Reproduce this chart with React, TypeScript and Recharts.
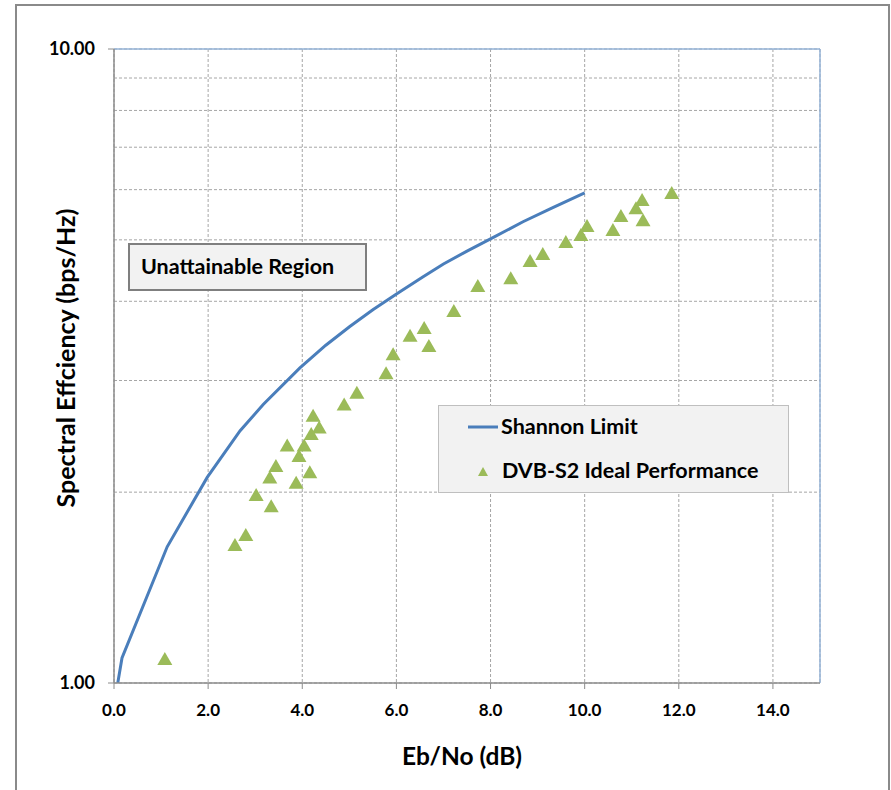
import React from "react";
import {
  ComposedChart,
  Line,
  Scatter,
  XAxis,
  YAxis,
  CartesianGrid,
  ReferenceLine,
  Legend,
} from "recharts";

// Shannon limit curve (Eb/No dB, spectral efficiency bps/Hz)
const shannonX = [0.08, 0.17, 1.13, 1.98, 2.68, 3.17, 3.95, 4.5, 5.01, 5.5, 6.01, 6.56, 7.0, 7.5, 8.03, 8.69, 9.3, 10.0];
const shannonY = [1.0, 1.095, 1.64, 2.11, 2.5, 2.75, 3.14, 3.41, 3.65, 3.88, 4.11, 4.37, 4.58, 4.8, 5.03, 5.34, 5.61, 5.93];

// DVB-S2 ideal performance points
const dvbX = [1.08, 2.57, 2.8, 3.02, 3.34, 3.31, 3.44, 3.68, 3.87, 3.93, 4.04, 4.16, 4.19, 4.23, 4.36, 4.89, 5.16, 5.78, 5.93, 6.29, 6.59, 6.69, 7.22, 7.73, 8.43, 8.84, 9.11, 9.6, 9.92, 10.05, 10.6, 10.77, 11.09, 11.22, 11.24, 11.85];
const dvbY = [1.091, 1.651, 1.712, 1.979, 1.9, 2.11, 2.2, 2.37, 2.07, 2.28, 2.37, 2.15, 2.47, 2.64, 2.53, 2.75, 2.87, 3.08, 3.3, 3.53, 3.63, 3.4, 3.86, 4.23, 4.35, 4.63, 4.75, 4.96, 5.09, 5.26, 5.18, 5.45, 5.61, 5.78, 5.37, 5.93];

const xTicks = [0, 2, 4, 6, 8, 10, 12, 14];
const yTicks = [1, 2, 3, 4, 5, 6, 7, 8, 9, 10];
const yLabelled = [1, 10];

const shannonData = shannonX.map((x, i) => ({ x, y: shannonY[i] }));
const dvbData = dvbX.map((x, i) => ({ x, y: dvbY[i] }));

const FONT = 'Lato, "Open Sans", sans-serif';
const LINE_COLOR = "#4a7ebb";
const TRI_COLOR = "#9bbb59";

const Triangle = (props: any) => {
  const { cx, cy } = props;
  if (cx == null || cy == null) return null;
  return (
    <path
      d={`M${cx},${cy - 7} L${cx + 7.5},${cy + 6} L${cx - 7.5},${cy + 6} Z`}
      fill={TRI_COLOR}
    />
  );
};

const XTick = (props: any) => {
  const { x, y, payload } = props;
  return (
    <g>
      <line x1={x} y1={y} x2={x} y2={y + 6} stroke="#8c8c8c" strokeWidth={1} />
      <text
        x={x}
        y={y + 33}
        textAnchor="middle"
        fontFamily={FONT}
        fontWeight="bold"
        fontSize={17}
        fill="#000"
      >
        {Number(payload.value).toFixed(1)}
      </text>
    </g>
  );
};

const YTick = (props: any) => {
  const { x, y, payload } = props;
  if (!yLabelled.includes(payload.value)) return null;
  return (
    <g>
      <line x1={x - 6} y1={y} x2={x} y2={y} stroke="#8c8c8c" strokeWidth={1} />
      <text
        x={x - 19}
        y={y + 6}
        textAnchor="end"
        fontFamily={FONT}
        fontWeight="bold"
        fontSize={18}
        fill="#000"
      >
        {Number(payload.value).toFixed(2)}
      </text>
    </g>
  );
};

const LegendBox = () => (
  <svg width={351} height={88} style={{ display: "block" }}>
    <rect x={0.5} y={0.5} width={350} height={87} fill="#f2f2f2" stroke="#bfbfbf" strokeWidth={1} />
    <line x1={30} y1={22} x2={60} y2={22} stroke={LINE_COLOR} strokeWidth={3} />
    <text x={63} y={29} fontFamily={FONT} fontWeight="bold" fontSize={21.5} fill="#000">
      Shannon Limit
    </text>
    <path d="M45,62 L50,71 L40,71 Z" fill={TRI_COLOR} />
    <text x={64} y={73} fontFamily={FONT} fontWeight="bold" fontSize={21.5} fill="#000">
      DVB-S2 Ideal Performance
    </text>
  </svg>
);

export default function App() {
  return (
    <div style={{ position: "absolute", left: 0, top: 0, width: 891, height: 790, background: "#fff", overflow: "hidden" }}>
      <div
        style={{
          position: "absolute",
          left: 15,
          top: 4,
          width: 875,
          height: 820,
          border: "2px solid #8a8a8a",
          boxSizing: "border-box",
        }}
      />
      <div style={{ position: "absolute", left: 0, top: 0 }}>
        <ComposedChart
          width={891}
          height={790}
          margin={{ top: 49, right: 71, bottom: 57, left: 54 }}
        >
          <CartesianGrid stroke="#a6a6a6" strokeDasharray="3 2" />
          <XAxis
            type="number"
            dataKey="x"
            domain={[0, 15]}
            ticks={xTicks}
            height={50}
            tickLine={false}
            tickSize={0}
            tickMargin={0}
            tick={<XTick />}
            axisLine={{ stroke: "#8c8c8c", strokeWidth: 1.5 }}
            allowDataOverflow
          />
          <YAxis
            type="number"
            dataKey="y"
            scale="log"
            domain={[1, 10]}
            ticks={yTicks}
            width={60}
            tickLine={false}
            tickSize={0}
            tickMargin={0}
            tick={<YTick />}
            interval={0}
            axisLine={{ stroke: "#8c8c8c", strokeWidth: 1.5 }}
            allowDataOverflow
          />
          <ReferenceLine y={10} stroke="#95b3d7" strokeWidth={1.5} />
          <ReferenceLine x={15} stroke="#95b3d7" strokeWidth={1.5} />
          <Line
            data={shannonData}
            dataKey="y"
            type="linear"
            stroke={LINE_COLOR}
            strokeWidth={3}
            dot={false}
            isAnimationActive={false}
            name="Shannon Limit"
          />
          <Scatter
            data={dvbData}
            dataKey="y"
            shape={<Triangle />}
            isAnimationActive={false}
            name="DVB-S2 Ideal Performance"
          />
          <Legend
            layout="horizontal"
            verticalAlign="middle"
            align="center"
            content={() => <LegendBox />}
            wrapperStyle={{ position: "absolute", left: 438, top: 405, width: 351, height: 88 }}
          />
        </ComposedChart>
      </div>
      <svg
        width={891}
        height={790}
        style={{ position: "absolute", left: 0, top: 0, pointerEvents: "none" }}
      >
        <rect x={129} y={244} width={237} height={46} fill="#f2f2f2" stroke="#7f7f7f" strokeWidth={2} />
        <text x={141} y={274} fontFamily={FONT} fontWeight="bold" fontSize={21.5} fill="#000">
          Unattainable Region
        </text>
        <text x={462} y={765} textAnchor="middle" fontFamily={FONT} fontWeight="bold" fontSize={24.5} fill="#000">
          Eb/No (dB)
        </text>
        <text
          x={0}
          y={0}
          transform="translate(75,358) rotate(-90)"
          textAnchor="middle"
          fontFamily={FONT}
          fontWeight="bold"
          fontSize={25}
          fill="#000"
        >
          Spectral Effciency (bps/Hz)
        </text>
      </svg>
    </div>
  );
}
